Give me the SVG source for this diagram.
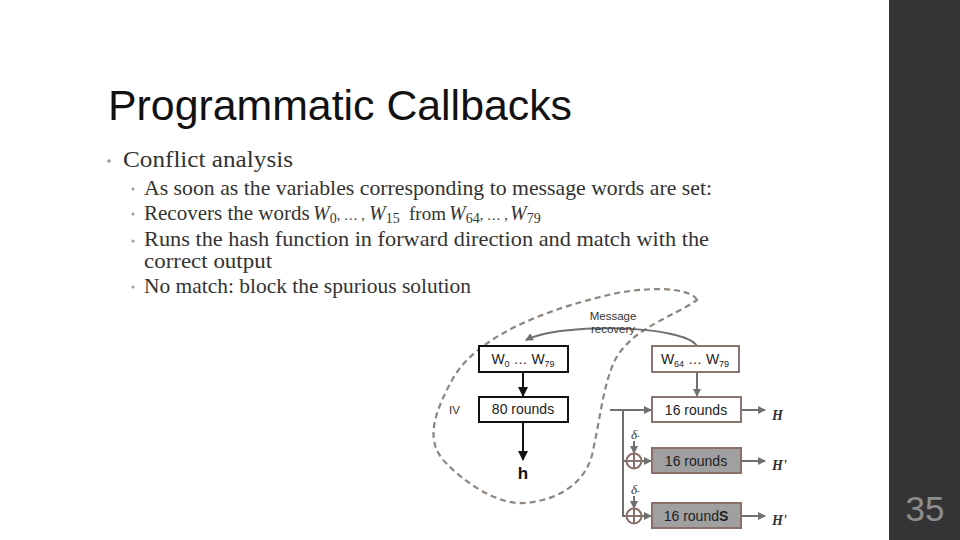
<svg xmlns="http://www.w3.org/2000/svg" width="960" height="540" viewBox="0 0 960 540">
<defs>
<style>
.title{font-family:"Liberation Sans",Arial,sans-serif;font-size:42px;fill:#111}
.b1{font-family:"Liberation Serif","Times New Roman",serif;font-size:23px;fill:#333}
.b2{font-family:"Liberation Serif","Times New Roman",serif;font-size:21px;fill:#333}
.mw{font-size:20px;font-style:italic}
.ms{font-size:14px}
.el{font-size:14px}
.lbl{font-family:"Liberation Sans",Arial,sans-serif;font-size:14px;fill:#222}
.sm{font-family:"Liberation Sans",Arial,sans-serif;font-size:11.5px;fill:#333}
.hl{font-family:"Liberation Serif","Times New Roman",serif;font-size:14px;font-style:italic;font-weight:bold;fill:#333}
.dot{fill:#999}
.bk{fill:#fff;stroke:#111;stroke-width:2}
.br{fill:#fff;stroke:#8a7670;stroke-width:2}
.bg{fill:#a0a0a0;stroke:#8a7068;stroke-width:2}
.ln{fill:none;stroke:#707070;stroke-width:2}
.lk{fill:none;stroke:#111;stroke-width:2}
.xo{fill:none;stroke:#8a7068;stroke-width:2}
</style>
<marker id="ag" markerWidth="8" markerHeight="8" refX="7" refY="4" orient="auto" markerUnits="userSpaceOnUse">
<path d="M0,0 L8,4 L0,8 Z" fill="#707070"/>
</marker>
<marker id="ak" markerWidth="10" markerHeight="10" refX="9" refY="5" orient="auto" markerUnits="userSpaceOnUse">
<path d="M0,0 L10,5 L0,10 Z" fill="#111"/>
</marker>
</defs>
<rect x="0" y="0" width="960" height="540" fill="#fff"/>
<rect x="889" y="0" width="71" height="540" fill="#343436"/>
<text x="925" y="521" text-anchor="middle" font-family="Liberation Sans,Arial,sans-serif" font-size="35" fill="#8c8c8c">35</text>

<text class="title" x="108" y="120" textLength="464" lengthAdjust="spacingAndGlyphs">Programmatic Callbacks</text>

<circle class="dot" cx="109" cy="161" r="1.8"/>
<text class="b1" x="123" y="167" textLength="170" lengthAdjust="spacingAndGlyphs">Conflict analysis</text>
<circle class="dot" cx="133" cy="189" r="1.5"/>
<text class="b2" x="144" y="195" textLength="568" lengthAdjust="spacingAndGlyphs">As soon as the variables corresponding to message words are set:</text>
<circle class="dot" cx="133" cy="214" r="1.5"/>
<text class="b2" y="220"><tspan x="144">Recovers the words</tspan><tspan class="mw" x="313">W</tspan><tspan class="ms" dy="3">0</tspan><tspan class="el" dy="-3">, … ,</tspan><tspan class="mw" x="369">W</tspan><tspan class="ms" dy="3">15</tspan><tspan dy="-3" x="409" font-size="19">from</tspan><tspan class="mw" x="449">W</tspan><tspan class="ms" dy="3">64</tspan><tspan class="el" dy="-3">, … , </tspan><tspan class="mw" x="510">W</tspan><tspan class="ms" dy="3">79</tspan></text>
<circle class="dot" cx="133" cy="241" r="1.5"/>
<text class="b2" x="144" y="246" font-size="19.5" textLength="565" lengthAdjust="spacingAndGlyphs">Runs the hash function in forward direction and match with the</text>
<text class="b2" x="144" y="268" font-size="18" textLength="128" lengthAdjust="spacingAndGlyphs">correct output</text>
<circle class="dot" cx="133" cy="287" r="1.5"/>
<text class="b2" x="144" y="293" textLength="327" lengthAdjust="spacingAndGlyphs">No match: block the spurious solution</text>

<g id="blob">
<path d="M697,300 C690,286 640,286 600,297 C540,312 475,338 452,380 C435,412 424,440 445,462 C468,486 500,505 525,503 C560,500 585,482 592,455 C600,420 603,385 615,360 C632,328 675,316 697,300 Z" fill="none" stroke="#8f857d" stroke-width="2.2" stroke-dasharray="6,4"/>
</g>

<g id="connectors">
<path class="ln" d="M697,346 C685,325 560,322 526,340" marker-end="url(#ag)"/>
<line class="lk" x1="523" y1="372" x2="523" y2="396" marker-end="url(#ak)"/>
<line class="lk" x1="523" y1="422" x2="523" y2="460" marker-end="url(#ak)"/>
<line class="ln" x1="697" y1="372" x2="697" y2="396" marker-end="url(#ag)"/>
<line class="ln" x1="610" y1="410" x2="651" y2="410" marker-end="url(#ag)"/>
<polyline class="ln" points="623,410 623,516 626,516"/>
<line class="ln" x1="623" y1="461" x2="626" y2="461"/>
<line class="ln" x1="642" y1="461" x2="651" y2="461" marker-end="url(#ag)"/>
<line class="ln" x1="642" y1="516" x2="651" y2="516" marker-end="url(#ag)"/>
<line class="ln" x1="634" y1="441" x2="634" y2="453" marker-end="url(#ag)"/>
<line class="ln" x1="634" y1="496" x2="634" y2="508" marker-end="url(#ag)"/>
<line class="ln" x1="741" y1="410" x2="765" y2="410" marker-end="url(#ag)"/>
<line class="ln" x1="741" y1="461" x2="765" y2="461" marker-end="url(#ag)"/>
<line class="ln" x1="741" y1="516" x2="765" y2="516" marker-end="url(#ag)"/>
</g>

<g id="msg-label">
<text class="sm" x="613" y="320" text-anchor="middle">Message</text>
<text class="sm" x="613" y="333" text-anchor="middle">recovery</text>
</g>

<g id="node-w0">
<rect class="bk" x="479" y="346" width="89" height="26"/>
<text class="lbl" x="523" y="364" text-anchor="middle">W<tspan font-size="9" dy="3">0</tspan><tspan dy="-3"> … W</tspan><tspan font-size="9" dy="3">79</tspan></text>
</g>
<g id="node-80">
<rect class="bk" x="479" y="397" width="89" height="25"/>
<text class="lbl" x="523" y="414" text-anchor="middle">80 rounds</text>
</g>
<g id="node-iv"><text class="sm" x="449" y="414" fill="#444">IV</text></g>
<g id="node-h"><text x="523" y="479" text-anchor="middle" font-family="Liberation Sans,Arial,sans-serif" font-size="17" font-weight="bold" fill="#111">h</text></g>

<g id="node-w64">
<rect class="br" x="652" y="346" width="87" height="26"/>
<text class="lbl" x="695" y="364" text-anchor="middle">W<tspan font-size="9" dy="3">64</tspan><tspan dy="-3"> … W</tspan><tspan font-size="9" dy="3">79</tspan></text>
</g>
<g id="node-r1">
<rect class="br" x="652" y="397" width="89" height="25"/>
<text class="lbl" x="696" y="415" text-anchor="middle">16 rounds</text>
</g>
<g id="node-r2">
<rect class="bg" x="652" y="448" width="89" height="25"/>
<text class="lbl" x="696" y="466" text-anchor="middle">16 rounds</text>
</g>
<g id="node-r3">
<rect class="bg" x="652" y="503" width="89" height="25"/>
<text class="lbl" x="696" y="521" text-anchor="middle">16 round<tspan font-weight="bold">S</tspan></text>
</g>

<g id="xor1">
<circle class="xo" cx="634" cy="461" r="7.5"/>
<path class="xo" d="M626.5,461 H641.5 M634,453.5 V468.5"/>
</g>
<g id="xor2">
<circle class="xo" cx="634" cy="516" r="7.5"/>
<path class="xo" d="M626.5,516 H641.5 M634,508.5 V523.5"/>
</g>
<g id="delta1"><text x="631" y="439" font-family="Liberation Serif,serif" font-style="italic" font-size="13" fill="#333">δ<tspan font-size="8">-</tspan></text></g>
<g id="delta2"><text x="631" y="494" font-family="Liberation Serif,serif" font-style="italic" font-size="13" fill="#333">δ<tspan font-size="8">-</tspan></text></g>

<g id="out1"><text class="hl" x="772" y="420">H</text></g>
<g id="out2"><text class="hl" x="772" y="470">H'</text></g>
<g id="out3"><text class="hl" x="772" y="525">H'</text></g>
</svg>
